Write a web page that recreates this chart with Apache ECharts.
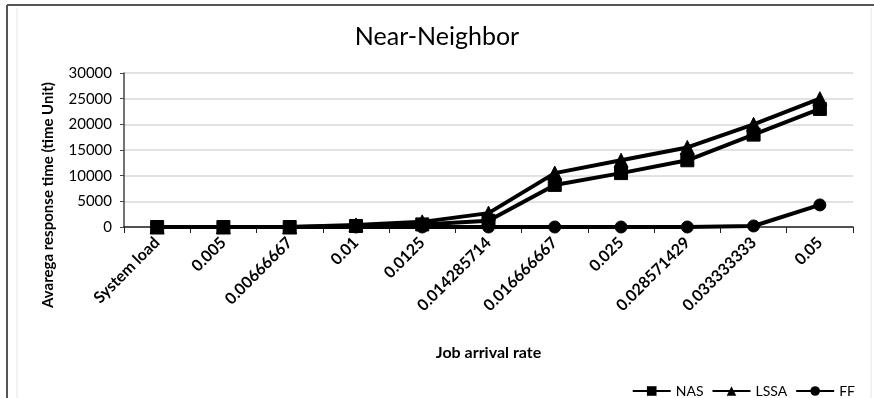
<!DOCTYPE html>
<html>
<head>
<meta charset="utf-8">
<script src="https://cdn.jsdelivr.net/npm/echarts@6/dist/echarts.min.js"></script>
<style>
  html, body { margin: 0; padding: 0; background: #fff; }
  #chart { width: 874px; height: 398px; }
</style>
</head>
<body>
<div id="chart"></div>
<script>
// Job arrival rates on the category axis
const categories = ['System load', '0.005', '0.00666667', '0.01', '0.0125', '0.014285714',
  '0.016666667', '0.025', '0.028571429', '0.033333333', '0.05'];

// Average response time per scheduling strategy
const nasValues  = [0, 0, 0, 200, 500, 1200, 8200, 10500, 13000, 18000, 23000];
const lssaValues = [0, 0, 0, 400, 1000, 2700, 10500, 13000, 15500, 20000, 25000];
const ffValues   = [0, 0, 0, 0, 0, 0, 0, 0, 0, 200, 4300];

const yTicks = { min: 0, max: 30000, interval: 5000 };

const FONT = 'Lato';
const chart = echarts.init(document.getElementById('chart'), null, { renderer: 'canvas' });

function lineSeries(name, data, symbol, size) {
  return {
    name: name,
    type: 'line',
    data: data,
    symbol: symbol,
    symbolSize: size,
    showAllSymbol: true,
    lineStyle: { color: '#000', width: 4 },
    itemStyle: { color: '#000', borderColor: '#000' },
    emphasis: { disabled: true },
    animation: false
  };
}

chart.setOption({
  backgroundColor: '#fff',
  animation: false,
  title: {
    text: 'Near-Neighbor',
    left: 'center',
    top: 19,
    textStyle: { fontFamily: FONT, fontSize: 25, fontWeight: 'normal', color: '#000' }
  },
  legend: {
    right: 14,
    top: 379,
    itemWidth: 38,
    itemHeight: 12,
    itemGap: 8,
    textStyle: { fontFamily: FONT, fontSize: 14, color: '#000' },
    data: ['NAS', 'LSSA', 'FF']
  },
  grid: { left: 124, right: 21, top: 73, height: 154, containLabel: false },
  xAxis: {
    type: 'category',
    data: categories,
    boundaryGap: true,
    name: 'Job arrival rate',
    nameLocation: 'middle',
    nameGap: 118,
    nameTextStyle: { fontFamily: FONT, fontSize: 16, fontWeight: 'bold', color: '#000' },
    axisLine: { lineStyle: { color: '#222', width: 1.5 } },
    axisTick: { show: true, length: 6, lineStyle: { color: '#222' } },
    axisLabel: {
      rotate: 45,
      interval: 0,
      margin: 13,
      fontFamily: FONT, fontSize: 16, fontWeight: 'bold', color: '#000'
    },
    splitLine: { show: false }
  },
  yAxis: {
    type: 'value',
    min: yTicks.min,
    max: yTicks.max,
    interval: yTicks.interval,
    axisLine: { show: true, lineStyle: { color: '#444', width: 1.5 } },
    axisTick: { show: true, length: 4, lineStyle: { color: '#444' } },
    axisLabel: { fontFamily: FONT, fontSize: 15, color: '#000', margin: 12, formatter: v => String(v) },
    splitLine: { show: true, lineStyle: { color: '#d9d9d9', width: 1.5 } }
  },
  series: [
    lineSeries('NAS', nasValues, 'rect', 13),
    lineSeries('LSSA', lssaValues, 'triangle', 14),
    lineSeries('FF', ffValues, 'circle', 12)
  ],
  graphic: [
    // vertical axis title
    {
      type: 'text',
      x: 48, y: 195,
      rotation: Math.PI / 2,
      style: {
        text: 'Avarega response time (time Unit)',
        fontFamily: FONT, fontSize: 15, fontWeight: 'bold', fill: '#000',
        align: 'center', verticalAlign: 'middle'
      }
    },
    // outer frame
    { type: 'line', shape: { x1: 7, y1: 5, x2: 874, y2: 5 }, style: { stroke: '#555', lineWidth: 2 } },
    { type: 'line', shape: { x1: 7, y1: 5, x2: 7, y2: 398 }, style: { stroke: '#555', lineWidth: 2 } },
    { type: 'line', shape: { x1: 17, y1: 8, x2: 17, y2: 398 }, style: { stroke: '#e4e4e4', lineWidth: 1 } },
    { type: 'line', shape: { x1: 871, y1: 8, x2: 871, y2: 398 }, style: { stroke: '#e4e4e4', lineWidth: 1 } }
  ]
});
</script>
</body>
</html>
